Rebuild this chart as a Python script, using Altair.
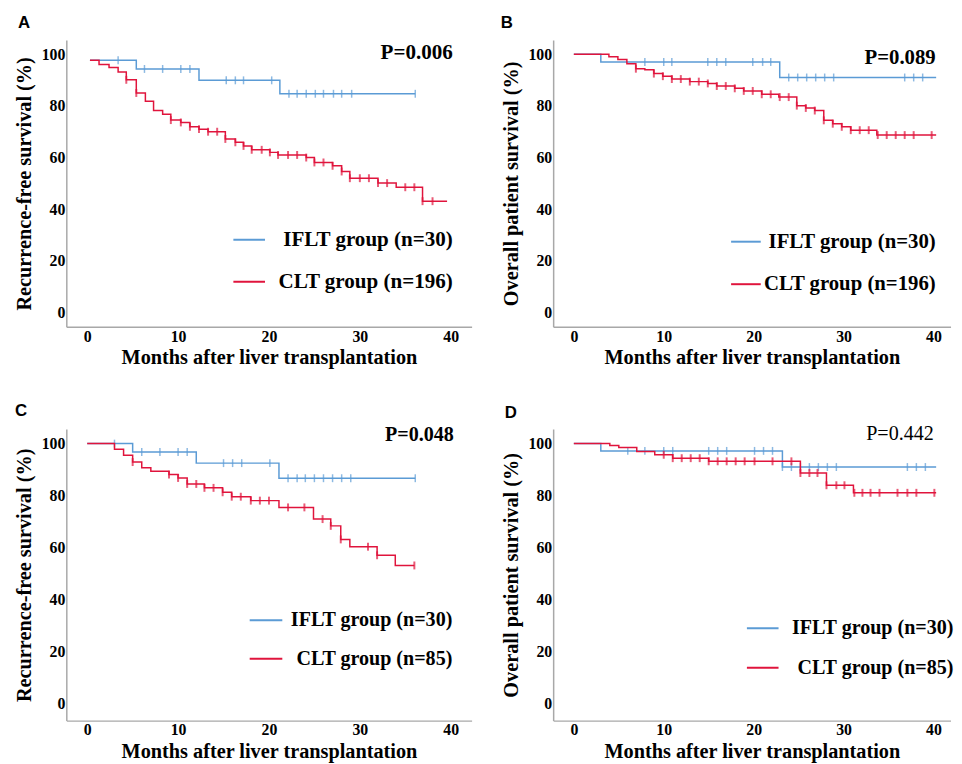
import altair as alt
import pandas as pd

SERIF = "Liberation Serif"
SANS = "Liberation Sans"
BLUE = "#5b9bd5"
RED = "#e0143c"

# ---------------- data ----------------
# Panel A: recurrence-free survival, IFLT (n=30) vs CLT (n=196)
A_iflt_t = [0.3, 5.4, 12.3, 21.2]
A_iflt_s = [97.7, 94.3, 89.9, 84.7]
A_iflt_end = 36.1
A_iflt_cens = [3.4, 6.3, 8.3, 10.3, 11.3, 15.3, 16.3, 17.2, 20.3, 22.2, 23.1, 24.1,
               25.1, 26.0, 27.1, 28.0, 29.1, 36.1]
A_clt_t = [0.3, 1.3, 2.4, 3.4, 4.3, 5.4, 6.4, 7.3, 8.3, 9.2, 10.3, 11.3, 12.3, 13.3,
           15.2, 16.3, 17.2, 18.1, 20.1, 21.0, 24.1, 25.0, 27.0, 28.0, 28.9, 32.0,
           34.0, 36.9]
A_clt_s = [97.7, 96.0, 94.9, 93.1, 90.1, 85.0, 81.8, 78.2, 76.8, 74.5, 73.6, 71.9,
           71.0, 70.0, 67.2, 65.9, 64.5, 63.0, 62.0, 61.0, 60.0, 58.1, 56.8, 54.6,
           52.0, 50.1, 48.5, 43.1]
A_clt_end = 39.6
A_clt_cens = [4.3, 5.4, 9.2, 10.3, 11.3, 12.3, 13.3, 14.3, 15.2, 16.3, 17.2, 18.1,
              19.2, 20.1, 21.0, 22.1, 23.1, 24.1, 25.0, 26.0, 27.0, 28.0, 28.9, 30.0,
              31.0, 32.0, 33.0, 35.0, 36.0, 36.9, 38.0]

# Panel B: overall patient survival, IFLT (n=30) vs CLT (n=196)
B_iflt_t = [0.0, 3.0, 22.9]
B_iflt_s = [100.0, 97.0, 91.0]
B_iflt_end = 40.3
B_iflt_cens = [7.9, 10.0, 10.9, 14.9, 15.9, 16.9, 19.9, 21.0, 21.9, 23.9, 24.9, 25.9,
               26.9, 27.9, 28.9, 36.8, 37.8, 38.8]
B_clt_t = [0.0, 3.9, 4.9, 5.9, 6.9, 7.9, 8.9, 9.9, 10.9, 12.9, 14.9, 15.9, 17.9, 18.9,
           20.9, 22.8, 24.8, 25.8, 26.8, 27.8, 28.8, 29.8, 30.8, 33.7]
B_clt_s = [100.0, 99.0, 98.0, 96.3, 94.4, 94.0, 92.5, 91.5, 90.4, 89.4, 88.7, 87.7,
           86.8, 85.8, 84.5, 83.4, 80.1, 79.2, 78.2, 74.4, 73.1, 71.9, 70.6, 68.7]
B_clt_end = 40.3
B_clt_cens = [6.9, 8.9, 9.9, 10.9, 11.9, 12.9, 13.9, 14.9, 15.9, 16.9, 17.9, 18.9,
              19.9, 20.9, 21.9, 22.9, 23.9, 24.8, 25.8, 26.8, 27.8, 28.8, 29.8, 30.8,
              31.8, 32.8, 33.8, 34.8, 35.8, 36.8, 37.8, 39.8]

# Panel C: recurrence-free survival, IFLT (n=30) vs CLT (n=85)
C_iflt_t = [0.0, 5.0, 12.0, 21.1]
C_iflt_s = [100.0, 96.8, 92.5, 86.7]
C_iflt_end = 36.1
C_iflt_cens = [3.0, 6.0, 8.0, 10.0, 11.0, 15.0, 16.0, 17.0, 20.1, 22.1, 23.1, 24.0,
               25.0, 26.0, 27.0, 28.0, 29.0, 36.1]
C_clt_t = [0.0, 3.0, 4.0, 5.0, 6.0, 7.0, 9.0, 10.0, 11.0, 12.9, 14.9, 15.9, 18.0, 21.1,
           24.9, 26.8, 27.9, 28.9, 31.9, 33.9]
C_clt_s = [100.0, 97.8, 95.5, 92.9, 90.7, 89.4, 88.1, 86.8, 84.5, 83.0, 81.3, 79.6,
           78.1, 75.5, 71.0, 68.4, 63.2, 60.4, 57.1, 53.2]
C_clt_end = 36.0
C_clt_cens = [5.0, 9.0, 10.0, 11.0, 12.0, 12.9, 13.9, 14.9, 15.9, 16.9, 18.0, 19.0,
              20.0, 22.1, 23.9, 25.9, 26.8, 27.9, 30.9, 31.9, 36.0]

# Panel D: overall patient survival, IFLT (n=30) vs CLT (n=85)
D_iflt_t = [0.0, 3.0, 23.2]
D_iflt_s = [100.0, 97.2, 91.0]
D_iflt_end = 40.3
D_iflt_cens = [6.0, 7.9, 10.0, 11.0, 15.0, 16.0, 17.0, 20.1, 21.1, 22.1, 23.2, 24.2,
               25.2, 26.2, 27.2, 28.2, 29.2, 37.1, 38.1, 39.1]
D_clt_t = [0.0, 4.0, 5.0, 7.0, 9.0, 11.0, 15.0, 25.2, 28.1, 31.1]
D_clt_s = [100.0, 99.3, 98.5, 97.0, 95.7, 94.4, 93.2, 88.7, 84.0, 81.1]
D_clt_end = 40.3
D_clt_cens = [10.0, 11.0, 12.0, 13.0, 14.0, 15.0, 16.0, 17.0, 18.0, 19.0, 20.1, 22.1,
              24.2, 25.2, 26.2, 27.1, 28.1, 29.2, 30.1, 31.2, 32.1, 33.0, 34.0, 36.0,
              37.1, 38.1, 40.1]

letters = ["A", "B", "C", "D"]
y_titles = ["Recurrence-free survival (%)", "Overall patient survival (%)",
            "Recurrence-free survival (%)", "Overall patient survival (%)"]
p_values = ["P=0.006", "P=0.089", "P=0.048", "P=0.442"]
legend_iflt = ["IFLT group (n=30)", "IFLT group (n=30)", "IFLT group (n=30)", "IFLT group (n=30)"]
legend_clt = ["CLT group (n=196)", "CLT group (n=196)", "CLT group (n=85)", "CLT group (n=85)"]
x_title = "Months after liver transplantation"
x_ticks = [0, 10, 20, 30, 40]
y_ticks = [0, 20, 40, 60, 80, 100]


# ---------------- helpers ----------------
def km_frame(times, surv, end):
    rows = [{"t": t, "s": s} for t, s in zip(times, surv)]
    rows.append({"t": end, "s": surv[-1]})
    return pd.DataFrame(rows)


def cens_frame(cens, times, surv):
    rows = []
    for c in cens:
        val = surv[0]
        for t, s in zip(times, surv):
            if c >= t - 0.05:
                val = s
        rows.append({"t": c, "s": val})
    return pd.DataFrame(rows)


one = pd.DataFrame({"k": [0]})


def txt(text, x, y, size, font, weight, align="left", baseline="alphabetic"):
    return alt.Chart(one).mark_text(
        text=text, font=font, fontSize=size, fontWeight=weight, align=align,
        baseline=baseline, color="black"
    ).encode(x=alt.value(x), y=alt.value(y))


def leg_rule(x1, x2, y, color):
    return alt.Chart(one).mark_rule(color=color, strokeWidth=2).encode(
        x=alt.value(x1), x2=alt.value(x2), y=alt.value(y))


def panel(i, iflt, clt, width, height, xdom, ydom, lay):
    xs = alt.Scale(domain=xdom, nice=False, zero=False)
    ys = alt.Scale(domain=ydom, nice=False, zero=False)
    X = alt.X("t:Q", scale=xs, axis=alt.Axis(values=x_ticks, title=x_title,
                                               labelPadding=1.5, titlePadding=4,
                                               labelFlush=False))
    Y = alt.Y("s:Q", scale=ys, axis=alt.Axis(values=y_ticks, title=y_titles[i],
                                               labelPadding=1.5, titlePadding=6.5))
    layers = []
    for (t, s, end, cens), color, thick in ((iflt, BLUE, 1.5), (clt, RED, 2)):
        layers.append(alt.Chart(km_frame(t, s, end)).mark_line(
            interpolate="step-after", color=color, strokeWidth=1.5).encode(x=X, y=Y))
        layers.append(alt.Chart(cens_frame(cens, t, s)).mark_tick(
            orient="vertical", color=color, size=8, thickness=thick).encode(x=X, y=Y))
    fs = lay["fs"]
    layers.append(txt(letters[i], lay["lx"], lay["ly"], 17, SANS, "bold", baseline="top"))
    layers.append(txt(p_values[i], lay["px"], lay["py"], fs, SERIF, lay["pw"], align="right"))
    layers.append(leg_rule(lay["gx1"], lay["gx2"], lay["gy1"], BLUE))
    layers.append(leg_rule(lay["gx1"], lay["gx2"], lay["gy2"], RED))
    layers.append(txt(legend_iflt[i], lay["tx"], lay["gy1"], fs, SERIF, "bold",
                      align="right", baseline="middle"))
    layers.append(txt(legend_clt[i], lay["tx"], lay["gy2"], fs, SERIF, "bold",
                      align="right", baseline="middle"))
    return alt.layer(*layers).properties(width=width, height=height)


lay_A = dict(fs=21.3, lx=-49, ly=-25, px=391, py=19, pw="bold",
             gx1=169, gx2=201, gy1=202, gy2=244.5, tx=391)
lay_B = dict(fs=21.0, lx=-53, ly=-25, px=387, py=24, pw="bold",
             gx1=180, gx2=210, gy1=204, gy2=247, tx=387)
lay_C = dict(fs=20.3, lx=-52, ly=-26, px=392, py=12.5, pw="bold",
             gx1=185.5, gx2=218.5, gy1=193.5, gy2=232.5, tx=390.5)
lay_D = dict(fs=20.3, lx=-49, ly=-24, px=385, py=11, pw="normal",
             gx1=196, gx2=228, gy1=201.5, gy2=241.5, tx=405)

xdom_left = [-2.3, 42.3]
xdom_right = [-2.3, 41.9]
ydom_top = [-5.5, 105.5]
ydom_bot = [-6.4, 105.6]

pA = panel(0, (A_iflt_t, A_iflt_s, A_iflt_end, A_iflt_cens),
           (A_clt_t, A_clt_s, A_clt_end, A_clt_cens), 410, 290, xdom_left, ydom_top, lay_A)
pB = panel(1, (B_iflt_t, B_iflt_s, B_iflt_end, B_iflt_cens),
           (B_clt_t, B_clt_s, B_clt_end, B_clt_cens), 402, 290, xdom_right, ydom_top, lay_B)
pC = panel(2, (C_iflt_t, C_iflt_s, C_iflt_end, C_iflt_cens),
           (C_clt_t, C_clt_s, C_clt_end, C_clt_cens), 410, 295, xdom_left, ydom_bot, lay_C)
pD = panel(3, (D_iflt_t, D_iflt_s, D_iflt_end, D_iflt_cens),
           (D_clt_t, D_clt_s, D_clt_end, D_clt_cens), 402, 295, xdom_right, ydom_bot, lay_D)

chart = alt.concat(
    pA, pB, pC, pD, columns=2, bounds="flush",
    spacing={"row": 103.5, "column": 82.5}
).properties(
    padding={"left": 6, "top": 2, "right": 0, "bottom": 0}
).configure_view(stroke=None).configure_axis(
    domainColor="#a8a8a8", domainWidth=1.5, ticks=False, grid=False,
    labelFont=SERIF, labelFontSize=16, labelFontWeight="bold", labelColor="black",
    titleFont=SERIF, titleFontSize=20.5, titleFontWeight="bold", titleColor="black"
)

chart.save("out.html", embed_options={"renderer": "svg", "actions": False})
